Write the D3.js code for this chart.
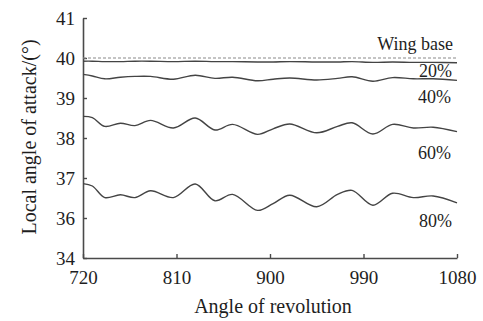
<!DOCTYPE html>
<html>
<head>
<meta charset="utf-8">
<script src="https://cdn.jsdelivr.net/npm/d3@7"></script>
<style>
  html, body { margin: 0; padding: 0; background: #fff; }
  svg { display: block; font-family: "Liberation Serif", "Times New Roman", serif; }
</style>
</head>
<body>
<svg id="chart" width="483" height="321"></svg>
<script>
// ---- data ----
const angles = [720, 729, 741, 756, 770, 785, 807, 828, 847, 864, 888, 903, 919, 945, 965, 979, 999, 1018, 1038, 1057, 1080];
const wingBase = [40.0, 40.0];
const wingBaseAngles = [720, 1080];
const pct20 = [39.92, 39.92, 39.91, 39.91, 39.92, 39.92, 39.91, 39.92, 39.91, 39.91, 39.90, 39.90, 39.91, 39.90, 39.90, 39.91, 39.89, 39.90, 39.89, 39.89, 39.88];
const pct40 = [39.59, 39.55, 39.48, 39.52, 39.54, 39.54, 39.47, 39.57, 39.49, 39.52, 39.43, 39.47, 39.50, 39.45, 39.49, 39.53, 39.42, 39.51, 39.48, 39.48, 39.44];
const pct60 = [38.54, 38.51, 38.29, 38.37, 38.31, 38.44, 38.25, 38.50, 38.20, 38.34, 38.09, 38.23, 38.35, 38.13, 38.29, 38.38, 38.10, 38.34, 38.25, 38.27, 38.16];
const pct80 = [36.86, 36.80, 36.51, 36.58, 36.51, 36.68, 36.51, 36.85, 36.43, 36.59, 36.19, 36.36, 36.57, 36.28, 36.59, 36.69, 36.32, 36.62, 36.51, 36.55, 36.38];
const seriesLabels = ["Wing base", "20%", "40%", "60%", "80%"];
const xTickValues = [720, 810, 900, 990, 1080];
const yTickValues = [35, 36, 37, 38, 39, 40, 41];
const yTickLabels = ["34", "36", "37", "38", "39", "40", "41"];
const xTitle = "Angle of revolution";
const yTitle = "Local angle of attack/(°)";

// ---- layout ----
const FONT = "'Liberation Serif', 'Times New Roman', serif";
const svg = d3.select("#chart");
const x = d3.scaleLinear().domain([720, 1080]).range([83, 457]);
const y = d3.scaleLinear().domain([35, 41]).range([258, 18]);
const axisColor = "#4a4a4a";
const lineColor = "#444";
const textColor = "#1e1e1e";

// axes
const gx = svg.append("g").attr("transform", `translate(0,${y(35)})`)
  .call(d3.axisBottom(x).tickValues(xTickValues).tickSizeInner(-4).tickSizeOuter(0).tickPadding(13).tickFormat(d3.format("d")));
const gy = svg.append("g").attr("transform", `translate(${x(720)},0)`)
  .call(d3.axisLeft(y).tickValues(yTickValues).tickSizeInner(-4).tickSizeOuter(0).tickPadding(8)
    .tickFormat((d, i) => yTickLabels[i]));
[gx, gy].forEach(g => {
  g.attr("font-family", FONT).attr("font-size", 19);
  g.select(".domain").attr("stroke", axisColor).attr("stroke-width", 1.6);
  g.selectAll(".tick line").attr("stroke", axisColor).attr("stroke-width", 1.4);
  g.selectAll(".tick text").attr("fill", textColor).attr("font-family", FONT).attr("font-size", 19);
});

// lines
const line = d3.line().x(d => x(d[0])).y(d => y(d[1])).curve(d3.curveCatmullRom.alpha(0.5));
svg.append("path")
  .datum(wingBaseAngles.map((a, i) => [a, wingBase[i]]))
  .attr("d", d3.line().x(d => x(d[0])).y(d => y(d[1])))
  .attr("fill", "none").attr("stroke", "#8a8a8a").attr("stroke-width", 1.1)
  .attr("stroke-dasharray", "3,2");
[pct20, pct40, pct60, pct80].forEach(vals => {
  svg.append("path")
    .datum(angles.map((a, i) => [a, vals[i]]))
    .attr("d", line)
    .attr("fill", "none").attr("stroke", lineColor).attr("stroke-width", 1.4);
});

// series labels
const labelPos = [
  { x: 453, y: 50 },
  { x: 452, y: 77 },
  { x: 451, y: 103 },
  { x: 451, y: 159 },
  { x: 452, y: 227 }
];
svg.append("g").selectAll("text").data(seriesLabels).join("text")
  .attr("x", (d, i) => labelPos[i].x)
  .attr("y", (d, i) => labelPos[i].y)
  .attr("text-anchor", "end")
  .attr("font-family", FONT)
  .attr("font-size", 18)
  .attr("fill", textColor)
  .text(d => d);

// titles
svg.append("text").attr("x", 273).attr("y", 313).attr("text-anchor", "middle")
  .attr("font-family", FONT).attr("font-size", 20).attr("fill", textColor).text(xTitle);
svg.append("text").attr("transform", "translate(36,137) rotate(-90)").attr("text-anchor", "middle")
  .attr("font-family", FONT).attr("font-size", 20).attr("fill", textColor).text(yTitle);
</script>
</body>
</html>
